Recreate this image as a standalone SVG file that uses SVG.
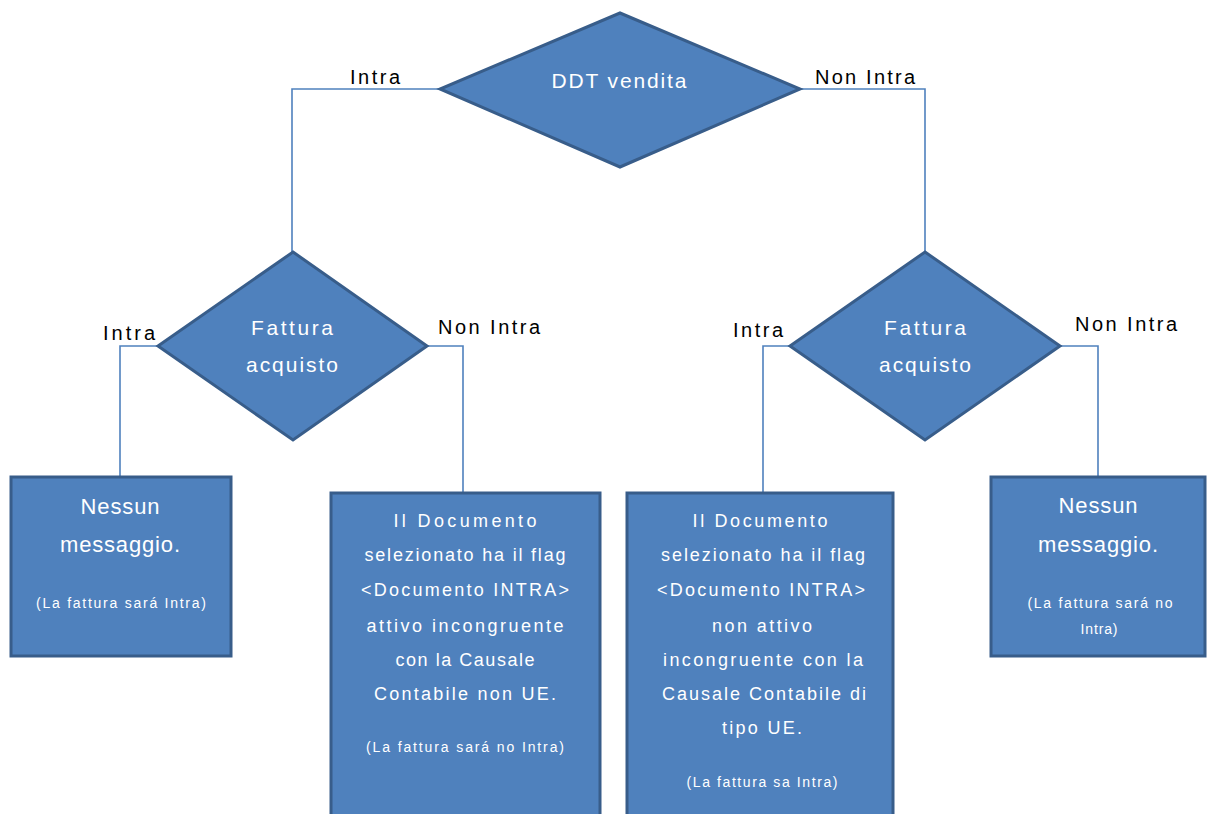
<svg xmlns="http://www.w3.org/2000/svg" width="1211" height="814" viewBox="0 0 1211 814">
<style>
.shape{fill:#4F81BD;stroke:#385D8A;stroke-width:3;stroke-linejoin:miter}
.conn{fill:none;stroke:#4F81BD;stroke-width:1.6}
.wt{font-family:"Liberation Sans",Arial,sans-serif;fill:#FFFFFF;text-anchor:middle}
.lbl{font-family:"Liberation Sans",Arial,sans-serif;fill:#000000;font-size:20px;text-anchor:middle}
.big{font-size:21px}
.mid{font-size:18px}
.sm{font-size:14px}
</style>
<rect width="1211" height="814" fill="#FFFFFF"/>
<g id="connectors">
<polyline class="conn" points="440,89 292,89 292,252"/>
<polyline class="conn" points="800,89 925,89 925,252"/>
<polyline class="conn" points="158,346 120,346 120,476"/>
<polyline class="conn" points="427,346 463,346 463,492"/>
<polyline class="conn" points="790,346 763,346 763,492"/>
<polyline class="conn" points="1060,346 1098,346 1098,476"/>
</g>
<g id="labels">
<text class="lbl" x="375" y="84" textLength="50" lengthAdjust="spacing">Intra</text>
<text class="lbl" x="865" y="84" textLength="100" lengthAdjust="spacing">Non Intra</text>
<text class="lbl" x="129" y="340" textLength="52" lengthAdjust="spacing">Intra</text>
<text class="lbl" x="489" y="334" textLength="102" lengthAdjust="spacing">Non Intra</text>
<text class="lbl" x="758" y="337" textLength="50" lengthAdjust="spacing">Intra</text>
<text class="lbl" x="1126" y="331" textLength="102" lengthAdjust="spacing">Non Intra</text>
</g>
<g id="ddt-vendita">
<polygon class="shape" points="620,13 800,89 620,167 440,89"/>
<text class="wt big" x="619" y="88" textLength="135" lengthAdjust="spacing">DDT vendita</text>
</g>
<g id="fattura-acquisto-left">
<polygon class="shape" points="293,252 427,346 293,440 158,346"/>
<text class="wt big" x="292" y="335" textLength="82" lengthAdjust="spacing">Fattura</text>
<text class="wt big" x="292" y="372" textLength="92" lengthAdjust="spacing">acquisto</text>
</g>
<g id="fattura-acquisto-right">
<polygon class="shape" points="925,252 1060,346 925,440 790,346"/>
<text class="wt big" x="925" y="335" textLength="82" lengthAdjust="spacing">Fattura</text>
<text class="wt big" x="925" y="372" textLength="92" lengthAdjust="spacing">acquisto</text>
</g>
<g id="box-intra-intra">
<rect class="shape" x="11" y="477" width="220" height="179"/>
<text class="wt" font-size="22" x="120" y="514" textLength="79" lengthAdjust="spacing">Nessun</text>
<text class="wt" font-size="22" x="120" y="552" textLength="120" lengthAdjust="spacing">messaggio.</text>
<text class="wt sm" x="121" y="608" textLength="170" lengthAdjust="spacing">(La fattura sará Intra)</text>
</g>
<g id="box-intra-nonintra">
<rect class="shape" x="331" y="493" width="269" height="330"/>
<text class="wt mid" x="465" y="527" textLength="143" lengthAdjust="spacing">Il Documento</text>
<text class="wt mid" x="465" y="561" textLength="201" lengthAdjust="spacing">selezionato ha il flag</text>
<text class="wt mid" x="465" y="596" textLength="208" lengthAdjust="spacing">&lt;Documento INTRA&gt;</text>
<text class="wt mid" x="465" y="632" textLength="197" lengthAdjust="spacing">attivo incongruente</text>
<text class="wt mid" x="465" y="666" textLength="139" lengthAdjust="spacing">con la Causale</text>
<text class="wt mid" x="465" y="700" textLength="182" lengthAdjust="spacing">Contabile non UE.</text>
<text class="wt sm" x="465" y="752" textLength="198" lengthAdjust="spacing">(La fattura sará no Intra)</text>
</g>
<g id="box-nonintra-intra">
<rect class="shape" x="627" y="493" width="266" height="330"/>
<text class="wt mid" x="760" y="527" textLength="135" lengthAdjust="spacing">Il Documento</text>
<text class="wt mid" x="763" y="561" textLength="204" lengthAdjust="spacing">selezionato ha il flag</text>
<text class="wt mid" x="761" y="596" textLength="208" lengthAdjust="spacing">&lt;Documento INTRA&gt;</text>
<text class="wt mid" x="762" y="632" textLength="100" lengthAdjust="spacing">non attivo</text>
<text class="wt mid" x="763" y="666" textLength="200" lengthAdjust="spacing">incongruente con la</text>
<text class="wt mid" x="764" y="700" textLength="204" lengthAdjust="spacing">Causale Contabile di</text>
<text class="wt mid" x="762" y="734" textLength="80" lengthAdjust="spacing">tipo UE.</text>
<text class="wt sm" x="762" y="787" textLength="151" lengthAdjust="spacing">(La fattura sa Intra)</text>
</g>
<g id="box-nonintra-nonintra">
<rect class="shape" x="991" y="477" width="214" height="179"/>
<text class="wt" font-size="22" x="1098" y="513" textLength="79" lengthAdjust="spacing">Nessun</text>
<text class="wt" font-size="22" x="1098" y="552" textLength="120" lengthAdjust="spacing">messaggio.</text>
<text class="wt sm" x="1100" y="608" textLength="145" lengthAdjust="spacing">(La fattura sará no</text>
<text class="wt sm" x="1099" y="634" textLength="37" lengthAdjust="spacing">Intra)</text>
</g>
</svg>
